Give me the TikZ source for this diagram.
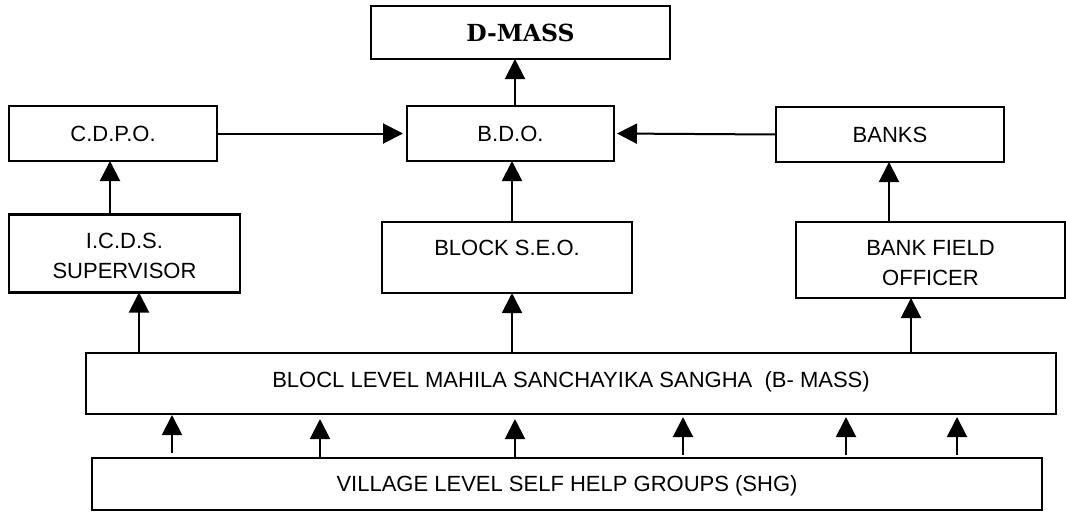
\documentclass[tikz,border=0pt]{standalone}
\usepackage{fontspec}
\setmainfont{Liberation Sans}
\newfontfamily\dmfont{DejaVu Serif}
\usetikzlibrary{arrows.meta}
\tikzset{
  box/.style={draw, line width=2.8pt, inner sep=0pt, outer sep=0pt, align=center,
    font=\fontsize{22}{30}\selectfont, text height=15.8pt, text depth=0pt},
  twoline/.style={draw, line width=2.8pt, inner sep=0pt, outer sep=0pt, align=center,
    font=\fontsize{22}{30}\selectfont},
  arr/.style={line width=2pt, -{Triangle[length=20pt,width=20pt]}}
}
\begin{document}
\begin{tikzpicture}[x=1pt,y=-1pt]
\path[use as bounding box] (0,0) rectangle (1066,512);
% boxes
\node[box, minimum width=299pt, minimum height=53pt, font=\dmfont\bfseries\fontsize{23.5}{28}\selectfont, text height=17pt] (dmass) at (520.5,32.5) {D-MASS};
\node[box, minimum width=207pt, minimum height=55pt] (bdo) at (510.5,133.5) {B.D.O.};
\node[box, minimum width=208pt, minimum height=55pt] (cdpo) at (113,133.5) {C.D.P.O.};
\node[box, minimum width=228pt, minimum height=55pt] (banks) at (890,134.5) {BANKS};
\node[twoline, minimum width=231pt, minimum height=78pt] (icds) at (124.5,253.5) {\rule{0pt}{20pt}I.C.D.S.\\SUPERVISOR};
\node[box, minimum width=250pt, minimum height=71pt, text depth=19.4pt] (seo) at (507,257.5) {BLOCK S.E.O.};
\node[twoline, minimum width=269pt, minimum height=76pt] (bfo) at (930.5,260) {\rule{0pt}{21.5pt}BANK FIELD\\OFFICER};
\node[box, minimum width=970pt, minimum height=61pt, text depth=7.6pt] (bmass) at (571,383.5) {BLOCL LEVEL MAHILA SANCHAYIKA SANGHA~ (B- MASS)};
\node[box, minimum width=950pt, minimum height=52pt] (shg) at (567,484) {VILLAGE LEVEL SELF HELP GROUPS (SHG)};
% x positions of connectors
\coordinate (xa) at (515,0);
\coordinate (xb) at (110,0);
\coordinate (xc) at (512,0);
\coordinate (xd) at (889,0);
\coordinate (xe) at (139,0);
\coordinate (xf) at (911,0);
\coordinate (s1) at (172,0);
\coordinate (s2) at (320,0);
\coordinate (s3) at (515,0);
\coordinate (s4) at (683,0);
\coordinate (s5) at (846,0);
\coordinate (s6) at (957,0);
% connectors
\draw[arr] (xa |- bdo.north) -- (xa |- dmass.south);
\draw[arr, shorten >=4pt] (cdpo.east) -- (bdo.west);
\draw[arr, shorten >=3pt] (banks.west) -- (bdo.east);
\draw[arr] (xb |- icds.north) -- (xb |- cdpo.south);
\draw[arr] (xc |- seo.north) -- (xc |- bdo.south);
\draw[arr] (xd |- bfo.north) -- (xd |- banks.south);
\draw[arr] (xe |- bmass.north) -- (xe |- icds.south);
\draw[arr] (xc |- bmass.north) -- (xc |- seo.south);
\draw[arr] (xf |- bmass.north) -- (xf |- bfo.south);
\draw[arr, shorten <=5pt, shorten >=1pt] (s1 |- shg.north) -- (s1 |- bmass.south);
\draw[arr, shorten >=5pt] (s2 |- shg.north) -- (s2 |- bmass.south);
\draw[arr, shorten >=5pt] (s3 |- shg.north) -- (s3 |- bmass.south);
\draw[arr, shorten <=3pt, shorten >=3pt] (s4 |- shg.north) -- (s4 |- bmass.south);
\draw[arr, shorten <=3pt, shorten >=3pt] (s5 |- shg.north) -- (s5 |- bmass.south);
\draw[arr, shorten <=3pt, shorten >=3pt] (s6 |- shg.north) -- (s6 |- bmass.south);
\end{tikzpicture}
\end{document}
